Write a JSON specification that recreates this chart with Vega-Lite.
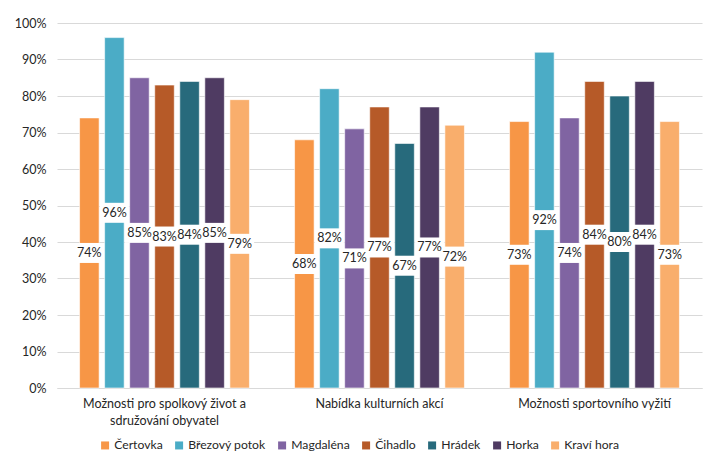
{
  "$schema": "https://vega.github.io/schema/vega-lite/v6.json",
  "width": 645,
  "height": 365,
  "autosize": {"type": "none"},
  "padding": {"left": 57, "top": 23, "right": 6, "bottom": 69},
  "background": "white",
  "config": {
    "font": "Lato",
    "view": {"stroke": null},
    "axis": {"labelFont": "Lato", "labelFontSize": 12.5, "labelColor": "#404040"}
  },
  "data": {
    "values": [
      {"oblast": "Možnosti pro spolkový život a sdružování obyvatel", "lokalita": "Čertovka", "podil": 0.74},
      {"oblast": "Možnosti pro spolkový život a sdružování obyvatel", "lokalita": "Březový potok", "podil": 0.96},
      {"oblast": "Možnosti pro spolkový život a sdružování obyvatel", "lokalita": "Magdaléna", "podil": 0.85},
      {"oblast": "Možnosti pro spolkový život a sdružování obyvatel", "lokalita": "Čihadlo", "podil": 0.83},
      {"oblast": "Možnosti pro spolkový život a sdružování obyvatel", "lokalita": "Hrádek", "podil": 0.84},
      {"oblast": "Možnosti pro spolkový život a sdružování obyvatel", "lokalita": "Horka", "podil": 0.85},
      {"oblast": "Možnosti pro spolkový život a sdružování obyvatel", "lokalita": "Kraví hora", "podil": 0.79},
      {"oblast": "Nabídka kulturních akcí", "lokalita": "Čertovka", "podil": 0.68},
      {"oblast": "Nabídka kulturních akcí", "lokalita": "Březový potok", "podil": 0.82},
      {"oblast": "Nabídka kulturních akcí", "lokalita": "Magdaléna", "podil": 0.71},
      {"oblast": "Nabídka kulturních akcí", "lokalita": "Čihadlo", "podil": 0.77},
      {"oblast": "Nabídka kulturních akcí", "lokalita": "Hrádek", "podil": 0.67},
      {"oblast": "Nabídka kulturních akcí", "lokalita": "Horka", "podil": 0.77},
      {"oblast": "Nabídka kulturních akcí", "lokalita": "Kraví hora", "podil": 0.72},
      {"oblast": "Možnosti sportovního vyžití", "lokalita": "Čertovka", "podil": 0.73},
      {"oblast": "Možnosti sportovního vyžití", "lokalita": "Březový potok", "podil": 0.92},
      {"oblast": "Možnosti sportovního vyžití", "lokalita": "Magdaléna", "podil": 0.74},
      {"oblast": "Možnosti sportovního vyžití", "lokalita": "Čihadlo", "podil": 0.84},
      {"oblast": "Možnosti sportovního vyžití", "lokalita": "Hrádek", "podil": 0.80},
      {"oblast": "Možnosti sportovního vyžití", "lokalita": "Horka", "podil": 0.84},
      {"oblast": "Možnosti sportovního vyžití", "lokalita": "Kraví hora", "podil": 0.73}
    ]
  },
  "encoding": {
    "x": {
      "field": "oblast",
      "type": "nominal",
      "sort": ["Možnosti pro spolkový život a sdružování obyvatel", "Nabídka kulturních akcí", "Možnosti sportovního vyžití"],
      "scale": {"paddingInner": 0.21, "paddingOuter": 0.105},
      "axis": {
        "title": null,
        "labelAngle": 0,
        "ticks": false,
        "domainColor": "#D9D9D9",
        "domainWidth": 1,
        "labelPadding": 9,
        "labelLineHeight": 17,
        "labelBaseline": "top",
        "labelColor": "#262626",
        "labelExpr": "datum.value == 'Možnosti pro spolkový život a sdružování obyvatel' ? ['Možnosti pro spolkový život a', 'sdružování obyvatel'] : datum.value"
      }
    },
    "xOffset": {
      "field": "lokalita",
      "type": "nominal",
      "sort": ["Čertovka", "Březový potok", "Magdaléna", "Čihadlo", "Hrádek", "Horka", "Kraví hora"],
      "scale": {"paddingInner": 0.22, "paddingOuter": 0}
    }
  },
  "layer": [
    {
      "mark": {"type": "bar", "stroke": "white", "strokeOpacity": 0.6, "strokeWidth": 1},
      "encoding": {
        "y": {
          "field": "podil",
          "type": "quantitative",
          "scale": {"domain": [0, 1]},
          "axis": {
            "title": null,
            "format": ".0%",
            "values": [0, 0.1, 0.2, 0.3, 0.4, 0.5, 0.6, 0.7, 0.8, 0.9, 1],
            "labelOverlap": false,
            "ticks": false,
            "domain": false,
            "labelPadding": 11,
            "labelColor": "#262626",
            "gridColor": "#D9D9D9",
            "gridWidth": 1
          }
        },
        "color": {
          "field": "lokalita",
          "type": "nominal",
          "sort": ["Čertovka", "Březový potok", "Magdaléna", "Čihadlo", "Hrádek", "Horka", "Kraví hora"],
          "scale": {
            "domain": ["Čertovka", "Březový potok", "Magdaléna", "Čihadlo", "Hrádek", "Horka", "Kraví hora"],
            "range": ["#F79646", "#4BACC6", "#8064A2", "#B65A28", "#276A7C", "#4F3B62", "#F9AE6C"]
          },
          "legend": {
            "title": null,
            "orient": "none",
            "direction": "horizontal",
            "legendX": 42,
            "legendY": 416,
            "symbolType": "square",
            "symbolSize": 64,
            "symbolStrokeWidth": 0,
            "labelFont": "Lato",
            "labelFontSize": 12.2,
            "labelColor": "#262626",
            "labelOffset": 3,
            "columnPadding": 10
          }
        }
      }
    },
    {
      "mark": {"type": "tick", "color": "white", "opacity": 1, "thickness": 20, "size": 29},
      "encoding": {
        "y": {"field": "podil", "type": "quantitative", "scale": {"domain": [0, 2]}, "axis": null}
      }
    },
    {
      "mark": {"type": "text", "font": "Lato", "fontSize": 12.5, "color": "#262626", "baseline": "middle", "align": "center"},
      "encoding": {
        "y": {"field": "podil", "type": "quantitative", "scale": {"domain": [0, 2]}, "axis": null},
        "text": {"field": "podil", "type": "quantitative", "format": ".0%"}
      }
    }
  ],
  "resolve": {"scale": {"y": "independent"}}
}
